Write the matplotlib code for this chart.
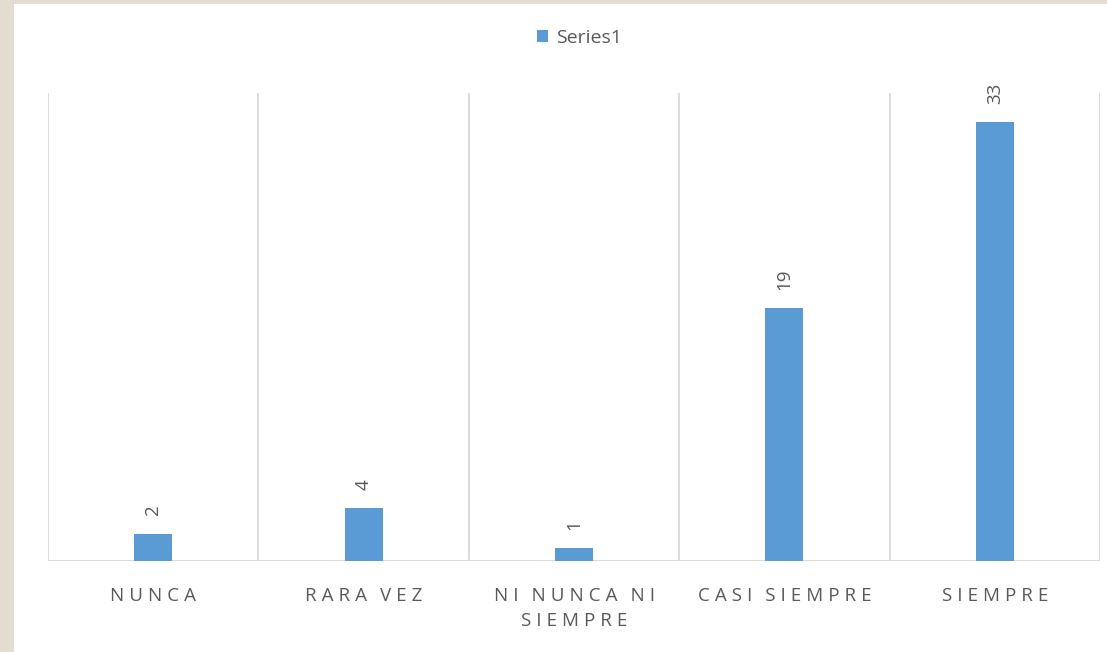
import matplotlib.pyplot as plt
from matplotlib.patches import Rectangle
import numpy as np

categories = ["NUNCA", "RARA VEZ", "NI NUNCA NI\nSIEMPRE", "CASI SIEMPRE", "SIEMPRE"]
values = [2, 4, 1, 19, 33]
series_name = "Series1"

bar_color = "#5B9BD5"
text_color = "#595959"
grid_color = "#D9D9D9"


# spread letters a little, like the letter-spaced office labels
def spaced(s):
    gap = "\u2009\u200a"
    lines = []
    for line in s.split("\n"):
        words = [gap.join(w) for w in line.split(" ")]
        lines.append((gap + " \u2009").join(words))
    return "\n".join(lines)


plt.rcParams['font.family'] = ['Open Sans', 'DejaVu Sans']

fig = plt.figure(figsize=(11.07, 6.52), dpi=100, facecolor="#E3DCD0")
fig.patches.append(Rectangle((14 / 1107, 0), 1, 1 - 4 / 652, transform=fig.transFigure,
                             facecolor="white", edgecolor="none", zorder=-10))

ax = fig.add_axes([48 / 1107, 91 / 652, 1052 / 1107, 468 / 652])
ax.set_facecolor("none")

x = np.arange(len(categories))
bars = ax.bar(x, values, width=0.18, color=bar_color, label=series_name, zorder=3)

ax.set_xlim(-0.5, len(categories) - 0.5)
ax.set_ylim(0, 35.2)

# category separators
for b in np.arange(-0.5, len(categories), 1.0):
    ax.axvline(b, color=grid_color, lw=1.3, zorder=1)

for spine in ax.spines.values():
    spine.set_visible(False)
ax.axhline(0, color=grid_color, lw=1.5, zorder=2)

ax.set_yticks([])
ax.set_xticks(x)
ax.set_xticklabels([spaced(c) for c in categories], fontsize=13.5, color=text_color,
                   linespacing=1.45, va="top")
ax.tick_params(axis="x", length=0, pad=19)

for xi, v in zip(x, values):
    ax.annotate(str(v), (xi, v), xytext=(0, 13), textcoords="offset points",
                rotation=90, ha="center", va="bottom", fontsize=13.5, color=text_color)

ax.legend(loc="upper center", bbox_to_anchor=(0.505, 1.175), frameon=False, fontsize=14,
          handlelength=0.6, handleheight=0.6, handletextpad=0.4, labelcolor=text_color)

fig.savefig("out.png", dpi=100, facecolor=fig.get_facecolor())
